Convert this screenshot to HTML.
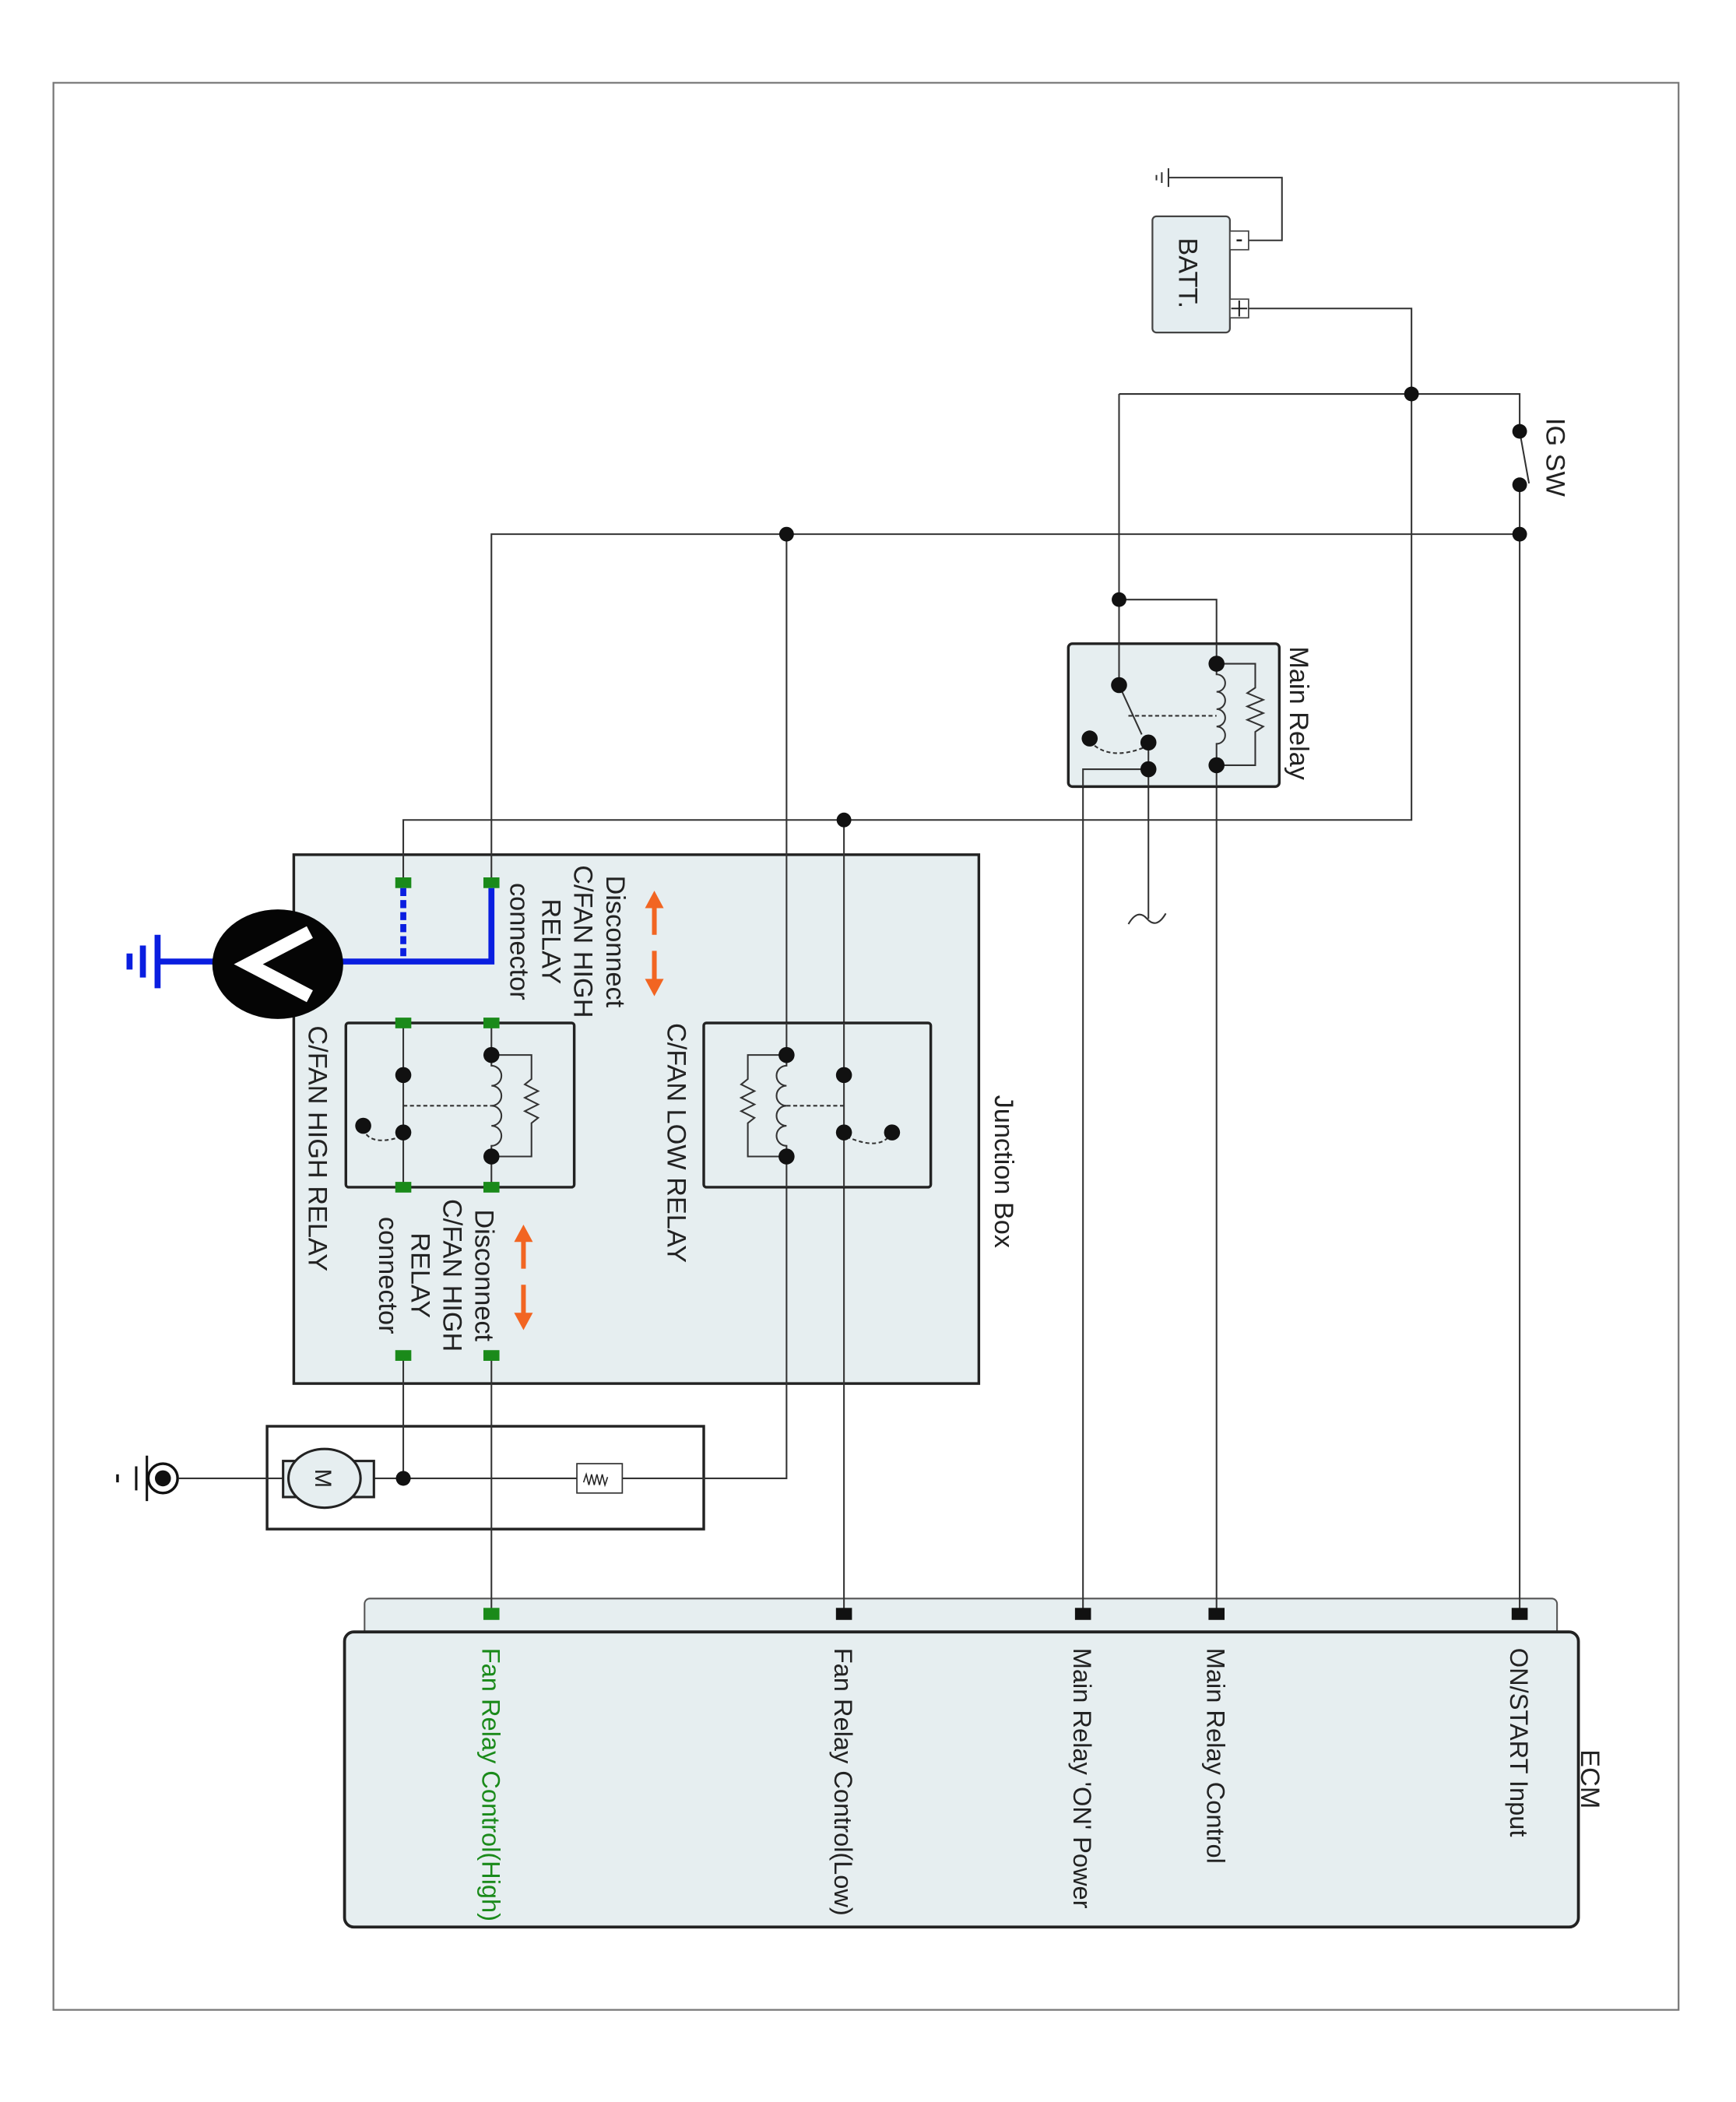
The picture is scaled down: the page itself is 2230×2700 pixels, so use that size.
<!DOCTYPE html>
<html><head><meta charset="utf-8"><style>
html,body{margin:0;padding:0;background:#fff;}
svg{display:block;}
text{font-family:"Liberation Sans",Arial,sans-serif;}
</style></head><body>
<svg width="2230" height="2700" viewBox="0 0 1300 1574" xmlns="http://www.w3.org/2000/svg">
<rect x="0" y="0" width="1300" height="1574" fill="#fff"/>
<rect x="40" y="62" width="1217" height="1443" fill="none" stroke="#777" stroke-width="1.3"/>

<!-- Junction box -->
<rect x="220" y="640" width="513" height="396" fill="#e6eef0" stroke="#222" stroke-width="2"/>
<!-- ECM -->
<rect x="273" y="1197" width="893" height="30" rx="4" fill="#e6eef0" stroke="#555" stroke-width="1.2"/>
<rect x="258" y="1222" width="924" height="221" rx="7" fill="#e6eef0" stroke="#222" stroke-width="2.2"/>

<!-- Motor box -->
<rect x="200" y="1068" width="327" height="77" fill="#fff" stroke="#222" stroke-width="2"/>

<g stroke="#333" stroke-width="1.2" fill="none">
<path d="M935 180 H960 V133 H875"/>
<path d="M875 126 V140 M870 129 V137 M866 131 V135"/>
<path d="M935 231 H1057 V614 H302 V661"/>
<path d="M838 295 H1138 V323"/>
<path d="M1138 323 L1145 362"/>
<path d="M1138 363 V1208"/>
<path d="M368 661 V400 H1138"/>
<path d="M589 400 V1107 H134"/>
<path d="M838 295 V513"/>
<path d="M838 449 H911 V497"/>
<path d="M911 573 V1208"/>
<path d="M811 1208 V576 H860"/>
<path d="M860 556 V688"/>
<path d="M845 692 q7 -12 14 -4 q7 8 14 -4"/>
<path d="M632 614 V1208"/>
<path d="M302 1015 V1107"/>
<path d="M368 1015 V1208"/>
<path d="M302 766 V889 M368 766 V790 M368 866 V889"/>
</g>

<!-- Battery -->
<rect x="863" y="162" width="58" height="87" rx="3" fill="#e4edf0" stroke="#444" stroke-width="1.3"/>
<rect x="921" y="173" width="14" height="14" fill="#fff" stroke="#444" stroke-width="1"/>
<rect x="921" y="224" width="14" height="14" fill="#fff" stroke="#444" stroke-width="1"/>
<path d="M926 180 H930" stroke="#222" stroke-width="1.5"/>
<path d="M922 231 H934 M928 225 V237" stroke="#222" stroke-width="1.2"/>
<text transform="translate(883,178) rotate(90)" font-size="20" fill="#222">BATT.</text>
<text transform="translate(1158,313) rotate(90)" font-size="20" fill="#222">IG SW</text>

<!-- Main relay -->
<rect x="800" y="482" width="158" height="107" rx="3" fill="#e6eef0" stroke="#222" stroke-width="2"/>
<g stroke="#333" stroke-width="1.2" fill="none">
<path d="M811 589 V576 H860 V556"/>
<path d="M911 497 V505 a5 5 0 0 1 0 13 a5 5 0 0 1 0 13 a5 5 0 0 1 0 13 a5 5 0 0 1 0 13 V573"/>
<path d="M911 497 H940 V515 l-6 4 l12 5 l-12 5 l12 5 l-12 5 l12 5 l-6 4 V573 H911"/>
<path d="M838 513 L855 550"/>
<path d="M845 536 H911" stroke-dasharray="3 2"/>
<path d="M816 555 Q830 570 856 560" stroke-dasharray="3 2"/>
<path d="M838 482 V513 M911 482 V497 M911 573 V589 M860 576 V589"/>
</g>
<text transform="translate(966,484) rotate(90)" font-size="20" fill="#222">Main Relay</text>

<!-- C/FAN LOW relay -->
<rect x="527" y="766" width="170" height="123" rx="2" fill="#e6eef0" stroke="#222" stroke-width="2"/>
<g stroke="#333" stroke-width="1.2" fill="none">
<path d="M589 766 V790 M589 866 V889 M632 766 V889"/>
<path d="M589 790 V798 a5 5 0 0 0 0 15 a5 5 0 0 0 0 15 a5 5 0 0 0 0 15 a5 5 0 0 0 0 15 V866"/>
<path d="M589 790 H560 V808 l-5 4 l10 5 l-10 5 l10 5 l-10 5 l10 5 l-5 4 V866 H589"/>
<path d="M589 828 H632" stroke-dasharray="3 2"/>
<path d="M668 848 Q660 862 636 852" stroke-dasharray="3 2"/>
</g>
<!-- C/FAN HIGH relay -->
<rect x="259" y="766" width="171" height="123" rx="2" fill="#e6eef0" stroke="#222" stroke-width="2"/>
<g stroke="#333" stroke-width="1.2" fill="none">
<path d="M302 766 V889 M368 766 V790 M368 866 V889"/>
<path d="M368 790 V798 a5 5 0 0 1 0 15 a5 5 0 0 1 0 15 a5 5 0 0 1 0 15 a5 5 0 0 1 0 15 V866"/>
<path d="M368 790 H398 V808 l-5 4 l10 5 l-10 5 l10 5 l-10 5 l10 5 l-5 4 V866 H368"/>
<path d="M302 828 H368" stroke-dasharray="3 2"/>
<path d="M272 845 Q276 858 298 852" stroke-dasharray="3 2"/>
</g>

<!-- dots -->
<g fill="#111">
<circle cx="1057" cy="295" r="5.5"/><circle cx="1138" cy="323" r="5.5"/><circle cx="1138" cy="363" r="5.5"/>
<circle cx="1138" cy="400" r="5.5"/><circle cx="589" cy="400" r="5.5"/><circle cx="838" cy="449" r="5.5"/>
<circle cx="632" cy="614" r="5.5"/>
<circle cx="911" cy="497" r="6"/><circle cx="911" cy="573" r="6"/>
<circle cx="838" cy="513" r="6"/><circle cx="860" cy="556" r="6"/><circle cx="860" cy="576" r="6"/><circle cx="816" cy="553" r="6"/>
<circle cx="589" cy="790" r="6"/><circle cx="589" cy="866" r="6"/><circle cx="632" cy="805" r="6"/><circle cx="632" cy="848" r="6"/><circle cx="668" cy="848" r="6"/>
<circle cx="368" cy="790" r="6"/><circle cx="368" cy="866" r="6"/><circle cx="302" cy="805" r="6"/><circle cx="302" cy="848" r="6"/><circle cx="272" cy="843" r="6"/>
<circle cx="302" cy="1107" r="5.5"/>
</g>

<g fill="#1a8a1a">
<rect x="296" y="657" width="12" height="8"/><rect x="362" y="657" width="12" height="8"/>
<rect x="296" y="762" width="12" height="8"/><rect x="362" y="762" width="12" height="8"/>
<rect x="296" y="885" width="12" height="8"/><rect x="362" y="885" width="12" height="8"/>
<rect x="296" y="1011" width="12" height="8"/><rect x="362" y="1011" width="12" height="8"/>
<rect x="362" y="1204" width="12" height="9"/>
</g>
<g fill="#111">
<rect x="626" y="1204" width="12" height="9"/><rect x="805" y="1204" width="12" height="9"/>
<rect x="905" y="1204" width="12" height="9"/><rect x="1132" y="1204" width="12" height="9"/>
</g>

<!-- Blue voltmeter -->
<g stroke="#0a1ee0" stroke-width="4.5" fill="none">
<path d="M368 665 V720 H240"/>
<path d="M302 665 V720" stroke-dasharray="6 3"/>
<path d="M180 720 H118"/>
<path d="M118 700 V740 M107 708 V732 M97 714 V726"/>
</g>
<ellipse cx="208" cy="722" rx="49" ry="41" fill="#050505"/>
<path d="M232 698 L186 722 L232 746" stroke="#fff" stroke-width="10" fill="none" stroke-linejoin="miter"/>

<g fill="#f26522" stroke="#f26522" stroke-width="3.5">
<path d="M490 700 V678"/><path d="M483 680 L490 667 L497 680 Z" stroke="none"/>
<path d="M490 712 V735"/><path d="M483 733 L490 746 L497 733 Z" stroke="none"/>
<path d="M392 950 V928"/><path d="M385 930 L392 917 L399 930 Z" stroke="none"/>
<path d="M392 962 V985"/><path d="M385 983 L392 996 L399 983 Z" stroke="none"/>
</g>

<g font-size="20" fill="#222" text-anchor="middle">
<text transform="translate(454,705) rotate(90)">Disconnect</text>
<text transform="translate(430,705) rotate(90)">C/FAN HIGH</text>
<text transform="translate(406,705) rotate(90)">RELAY</text>
<text transform="translate(382,705) rotate(90)">connector</text>
<text transform="translate(356,955) rotate(90)">Disconnect</text>
<text transform="translate(332,955) rotate(90)">C/FAN HIGH</text>
<text transform="translate(308,955) rotate(90)">RELAY</text>
<text transform="translate(284,955) rotate(90)">connector</text>
</g>
<text transform="translate(500,766) rotate(90)" font-size="20" fill="#222">C/FAN LOW RELAY</text>
<text transform="translate(231,768) rotate(90)" font-size="20" fill="#222">C/FAN HIGH RELAY</text>
<text transform="translate(745,820) rotate(90)" font-size="20" fill="#222">Junction Box</text>

<!-- Motor -->
<rect x="212" y="1094" width="68" height="27" fill="#e6eef0" stroke="#222" stroke-width="1.8"/>
<ellipse cx="243" cy="1107" rx="27" ry="22" fill="#e6eef0" stroke="#222" stroke-width="1.8"/>
<text transform="translate(236,1107) rotate(90)" font-size="17" fill="#222" text-anchor="middle">M</text>
<rect x="432" y="1096" width="34" height="22" fill="#fff" stroke="#333" stroke-width="1"/>
<path d="M437 1110 l2 -6 l2 8 l2 -8 l2 8 l2 -8 l2 8 l2 -8 l2 8 l2 -6" stroke="#222" stroke-width="0.9" fill="none"/>
<circle cx="302" cy="1107" r="5.5" fill="#111"/>
<circle cx="122" cy="1107" r="11" fill="#fff" stroke="#111" stroke-width="2"/>
<circle cx="122" cy="1107" r="6" fill="#111"/>
<path d="M110 1090 V1124 M102 1098 V1116" stroke="#111" stroke-width="1.8"/>
<path d="M88 1104 V1110" stroke="#111" stroke-width="2"/>

<text transform="translate(1184,1310) rotate(90)" font-size="20" fill="#222">ECM</text>
<g font-size="19" fill="#222">
<text transform="translate(1131,1234) rotate(90)">ON/START Input</text>
<text transform="translate(904,1234) rotate(90)">Main Relay Control</text>
<text transform="translate(804,1234) rotate(90)">Main Relay 'ON' Power</text>
<text transform="translate(625,1234) rotate(90)">Fan Relay Control(Low)</text>
<text transform="translate(361,1234) rotate(90)" fill="#1a8a1a">Fan Relay Control(High)</text>
</g>
</svg>
</body></html>
